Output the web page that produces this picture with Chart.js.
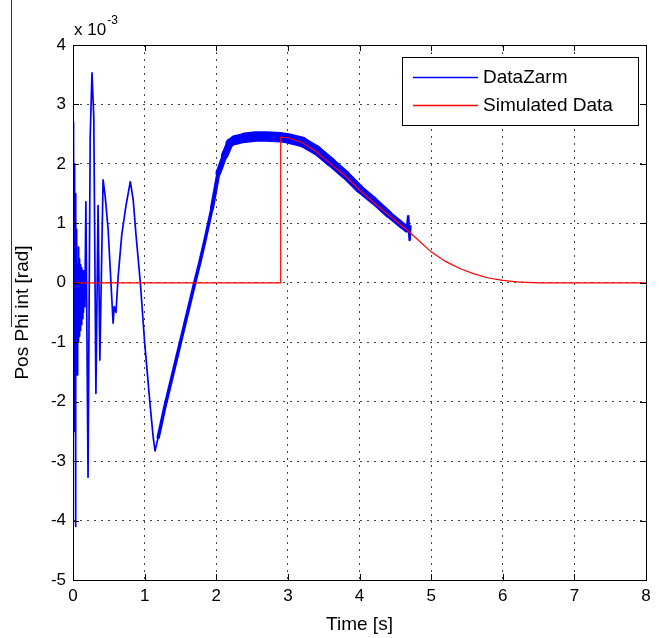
<!DOCTYPE html>
<html>
<head>
<meta charset="utf-8">
<script src="https://cdn.jsdelivr.net/npm/chart.js@4.4.1/dist/chart.umd.min.js"></script>
<style>
  body { margin: 0; background: #fff; }
  #wrap { position: relative; width: 659px; height: 638px; }
  #edge { position: absolute; left: 11px; top: 0; width: 1px; height: 327px; background: #333; }
</style>
</head>
<body>
<div id="wrap">
  <canvas id="myChart" width="659" height="638"></canvas>
  <div id="edge"></div>
</div>
<script>
// values are in units of 1e-3 rad
var seriesNames = ['DataZarm', 'Simulated Data'];
var xTicks = [0, 1, 2, 3, 4, 5, 6, 7, 8];
var yTicks = [-5, -4, -3, -2, -1, 0, 1, 2, 3, 4];

var zarmTime = [0.000, 0.005, 0.010, 0.015, 0.020, 0.025, 0.030, 0.035, 0.040, 0.045,
  0.050, 0.060, 0.065, 0.072, 0.078, 0.085, 0.092, 0.100, 0.107, 0.115,
  0.122, 0.130, 0.138, 0.146, 0.155, 0.165, 0.180, 0.210,
  0.240, 0.265, 0.290, 0.320, 0.350, 0.375, 0.420, 0.450, 0.490, 0.530,
  0.560, 0.575, 0.600, 0.630, 0.680, 0.740, 0.800, 0.840, 0.880, 0.940,
  1.000, 1.080, 1.120, 1.145, 1.190, 1.280, 1.420, 1.560, 1.700, 1.770,
  1.840, 1.940, 2.030, 2.120, 2.190, 2.260, 2.400, 2.550, 2.700, 2.890,
  3.000, 3.200, 3.400, 3.600, 3.800, 4.000, 4.200, 4.400, 4.600, 4.660,
  4.680, 4.700, 4.710];
var zarmVal = [2.70, 0.50, 2.35, -1.00, 2.00, -2.50, 1.50, -4.10, 1.20, -1.30,
  0.90, -1.55, 0.30, -1.00, 0.60, -0.90, 0.40, -0.80, 0.30, -0.70,
  0.25, -0.60, 0.20, -0.50, 0.20, -0.40, 1.36, -3.27,
  2.45, 3.53, 2.80, -1.86, 1.30, -1.30, 1.73, 1.45, 0.90, 0.00,
  -0.68, -0.40, -0.50, 0.10, 0.80, 1.30, 1.70, 1.40, 0.80, 0.00,
  -1.00, -2.10, -2.60, -2.83, -2.60, -2.10, -1.40, -0.70, 0.00, 0.34,
  0.70, 1.25, 1.85, 2.15, 2.35, 2.40, 2.44, 2.46, 2.46, 2.45,
  2.43, 2.37, 2.23, 2.03, 1.82, 1.58, 1.38, 1.16, 0.96, 0.90,
  1.12, 0.72, 0.95];

var simTime = [0.0, 2.9, 2.9, 3.0, 3.2, 3.4, 3.6, 3.8, 4.0, 4.2,
  4.4, 4.6, 4.7, 4.8, 5.0, 5.2, 5.4, 5.6, 5.8, 6.0,
  6.2, 6.5, 8.0];
var simVal = [0.0, 0.0, 2.45, 2.44, 2.36, 2.20, 2.00, 1.80, 1.56, 1.35,
  1.15, 0.95, 0.85, 0.74, 0.52, 0.36, 0.24, 0.15, 0.08, 0.04,
  0.015, 0.0, 0.0];

var FONT = '"Liberation Sans", Arial, sans-serif';

function toPoints(xs, ys) {
  var pts = [];
  for (var i = 0; i < xs.length; i++) {
    pts.push({ x: xs[i], y: ys[i] });
  }
  return pts;
}

// the measured signal is noisy, so it gets a wider stroke where the band is thick
function zarmWidth(t) {
  if (t < 1.15) return 1.7;
  if (t < 1.9) return 3.5;
  if (t < 2.3) return 3.5 + (t - 1.9) * 18;
  if (t < 3.0) return 10.5;
  if (t < 4.65) return 10.5 - (t - 3) * 2.6;
  return 2.5;
}

var frame = {
  id: 'frame',
  afterDatasetsDraw: function(chart) {
    var ctx = chart.ctx, a = chart.chartArea;
    var xs = chart.scales.x, ys = chart.scales.y;
    ctx.save();
    ctx.strokeStyle = '#000';
    ctx.lineWidth = 1;
    ctx.strokeRect(Math.round(a.left) + 0.5, Math.round(a.top) + 0.5,
      Math.round(a.right - a.left), Math.round(a.bottom - a.top));
    ctx.beginPath();
    xTicks.forEach(function(v) {
      var px = Math.round(xs.getPixelForValue(v)) + 0.5;
      ctx.moveTo(px, a.bottom); ctx.lineTo(px, a.bottom - 6);
      ctx.moveTo(px, a.top); ctx.lineTo(px, a.top + 6);
    });
    yTicks.forEach(function(v) {
      var py = Math.round(ys.getPixelForValue(v)) + 0.5;
      ctx.moveTo(a.left, py); ctx.lineTo(a.left + 6, py);
      ctx.moveTo(a.right, py); ctx.lineTo(a.right - 6, py);
    });
    ctx.stroke();

    // exponent label above the y axis
    ctx.fillStyle = '#000';
    ctx.textBaseline = 'alphabetic';
    ctx.font = '17px ' + FONT;
    ctx.fillText('x 10', a.left + 1, a.top - 10);
    var w = ctx.measureText('x 10').width;
    ctx.font = '12px ' + FONT;
    ctx.fillText('-3', a.left + 2 + w, a.top - 21);
    ctx.restore();
  }
};

var legendBox = {
  id: 'legendBox',
  afterDatasetsDraw: function(chart) {
    var ctx = chart.ctx, a = chart.chartArea;
    var w = 236, h = 68;
    var x = Math.round(a.right) - 8 - w, y = Math.round(a.top) + 12;
    var colors = ['#0000ff', '#ff0000'];
    ctx.save();
    ctx.fillStyle = '#fff';
    ctx.fillRect(x, y, w, h);
    ctx.strokeStyle = '#000';
    ctx.lineWidth = 1;
    ctx.strokeRect(x + 0.5, y + 0.5, w, h);
    ctx.font = '19px ' + FONT;
    ctx.textBaseline = 'middle';
    for (var i = 0; i < seriesNames.length; i++) {
      var ry = y + 20 + i * 28;
      ctx.strokeStyle = colors[i];
      ctx.lineWidth = 1.5;
      ctx.beginPath();
      ctx.moveTo(x + 11, ry + 0.5);
      ctx.lineTo(x + 76, ry + 0.5);
      ctx.stroke();
      ctx.fillStyle = '#000';
      ctx.fillText(seriesNames[i], x + 81, ry + 1);
    }
    ctx.restore();
  }
};

var chart = new Chart(document.getElementById('myChart'), {
  type: 'scatter',
  data: {
    datasets: [
      {
        label: seriesNames[1],
        data: toPoints(simTime, simVal),
        showLine: true,
        borderColor: '#ff0000',
        borderWidth: 1.2,
        pointRadius: 0,
        tension: 0
      },
      {
        label: seriesNames[0],
        data: toPoints(zarmTime, zarmVal),
        showLine: true,
        borderColor: '#0000ff',
        borderWidth: 1.7,
        borderJoinStyle: 'round',
        borderCapStyle: 'round',
        pointRadius: 0,
        tension: 0,
        segment: {
          borderWidth: function(ctx) { return zarmWidth(ctx.p0.parsed.x); }
        }
      }
    ]
  },
  options: {
    responsive: false,
    animation: false,
    devicePixelRatio: 1,
    layout: { padding: { left: 0, top: 45, right: 13, bottom: 0 } },
    plugins: {
      legend: { display: false },
      tooltip: { enabled: false }
    },
    scales: {
      x: {
        type: 'linear',
        min: 0, max: 8,
        afterFit: function(s) { s.height = 58; },
        afterBuildTicks: function(s) { s.ticks = xTicks.map(function(v) { return { value: v }; }); },
        grid: { color: '#444', lineWidth: 1, drawTicks: false },
        border: { display: false, dash: [2, 5] },
        ticks: { color: '#000', padding: 6, font: { family: FONT, size: 17 }, maxRotation: 0 },
        title: { display: true, text: 'Time [s]', color: '#000', font: { family: FONT, size: 19 }, padding: { top: 0, bottom: 2 } }
      },
      y: {
        type: 'linear',
        min: -5, max: 4,
        afterFit: function(s) { s.width = 73; },
        afterBuildTicks: function(s) { s.ticks = yTicks.map(function(v) { return { value: v }; }); },
        grid: { color: '#444', lineWidth: 1, drawTicks: false },
        border: { display: false, dash: [2, 5] },
        ticks: { color: '#000', padding: 7, font: { family: FONT, size: 17 } },
        title: { display: true, text: 'Pos Phi int [rad]', color: '#000', font: { family: FONT, size: 19 }, padding: { top: 11, bottom: 0 } }
      }
    }
  },
  plugins: [frame, legendBox]
});
</script>
</body>
</html>
